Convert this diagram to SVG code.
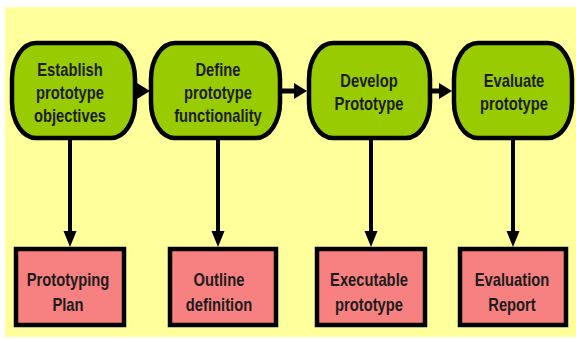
<svg xmlns="http://www.w3.org/2000/svg" width="576" height="339" viewBox="0 0 576 339">
<style>
.bg{fill:#ffff9c}
.step{fill:#99cc00;stroke:#000;stroke-width:4.5}
.out{fill:#f78080;stroke:#000;stroke-width:4.5}
.t{font-family:"Liberation Sans",Arial,sans-serif;font-weight:bold;font-size:18px;fill:#1c1c1c;text-anchor:middle}
.c{fill:none;stroke:#000;stroke-width:4}
.ch{fill:none;stroke:#000;stroke-width:5}
</style>
<defs>
<marker id="ah" markerUnits="userSpaceOnUse" markerWidth="13" markerHeight="16" refX="0" refY="8" orient="auto" overflow="visible">
<path d="M0,0 L13,8 L0,16 Z" fill="#000"/>
</marker>
<marker id="av" markerUnits="userSpaceOnUse" markerWidth="16" markerHeight="13" refX="0" refY="6.5" orient="auto" overflow="visible">
<path d="M0,0 L16,6.5 L0,13 Z" fill="#000"/>
</marker>
</defs>
<rect class="bg" x="5" y="7" width="571" height="330"/>
<g id="connectors">
<path class="ch" d="M135,91 H137" marker-end="url(#ah)"/>
<path class="ch" d="M280,91 H294" marker-end="url(#ah)"/>
<path class="ch" d="M430,91 H439" marker-end="url(#ah)"/>
<path class="c" d="M70,138 V231" marker-end="url(#av)"/>
<path class="c" d="M218,138 V231" marker-end="url(#av)"/>
<path class="c" d="M371,138 V231" marker-end="url(#av)"/>
<path class="c" d="M513,138 V231" marker-end="url(#av)"/>
</g>
<g id="n1">
<path class="step" d="M36,43 H111 A24,36 0 0 1 135,79 V102 A24,36 0 0 1 111,138 H36 A24,36 0 0 1 12,102 V79 A24,36 0 0 1 36,43 Z"/>
<g transform="matrix(0.82 0 0 1 70 0)" class="t">
<text x="0" y="76">Establish</text>
<text x="0" y="99">prototype</text>
<text x="0" y="122">objectives</text>
</g>
</g>
<g id="n2">
<path class="step" d="M175,43 H256 A24,36 0 0 1 280,79 V102 A24,36 0 0 1 256,138 H175 A24,36 0 0 1 151,102 V79 A24,36 0 0 1 175,43 Z"/>
<g transform="matrix(0.82 0 0 1 218 0)" class="t">
<text x="0" y="76">Define</text>
<text x="0" y="99">prototype</text>
<text x="0" y="122">functionality</text>
</g>
</g>
<g id="n3">
<path class="step" d="M333,43 H406 A24,36 0 0 1 430,79 V102 A24,36 0 0 1 406,138 H333 A24,36 0 0 1 309,102 V79 A24,36 0 0 1 333,43 Z"/>
<g transform="matrix(0.82 0 0 1 369 0)" class="t">
<text x="0" y="87">Develop</text>
<text x="0" y="110">Prototype</text>
</g>
</g>
<g id="n4">
<path class="step" d="M478,43 H548 A24,36 0 0 1 572,79 V102 A24,36 0 0 1 548,138 H478 A24,36 0 0 1 454,102 V79 A24,36 0 0 1 478,43 Z"/>
<g transform="matrix(0.82 0 0 1 514 0)" class="t">
<text x="0" y="87">Evaluate</text>
<text x="0" y="110">prototype</text>
</g>
</g>
<g id="o1">
<rect class="out" x="16" y="249" width="108" height="76"/>
<g transform="matrix(0.82 0 0 1 68 0)" class="t">
<text x="0" y="286">Prototyping</text>
<text x="0" y="311">Plan</text>
</g>
</g>
<g id="o2">
<rect class="out" x="170" y="249" width="106" height="76"/>
<g transform="matrix(0.82 0 0 1 219 0)" class="t">
<text x="0" y="286">Outline</text>
<text x="0" y="311">definition</text>
</g>
</g>
<g id="o3">
<rect class="out" x="317" y="249" width="108" height="76"/>
<g transform="matrix(0.82 0 0 1 369 0)" class="t">
<text x="0" y="286">Executable</text>
<text x="0" y="311">prototype</text>
</g>
</g>
<g id="o4">
<rect class="out" x="460" y="249" width="106" height="76"/>
<g transform="matrix(0.82 0 0 1 512 0)" class="t">
<text x="0" y="286">Evaluation</text>
<text x="0" y="311">Report</text>
</g>
</g>
</svg>
